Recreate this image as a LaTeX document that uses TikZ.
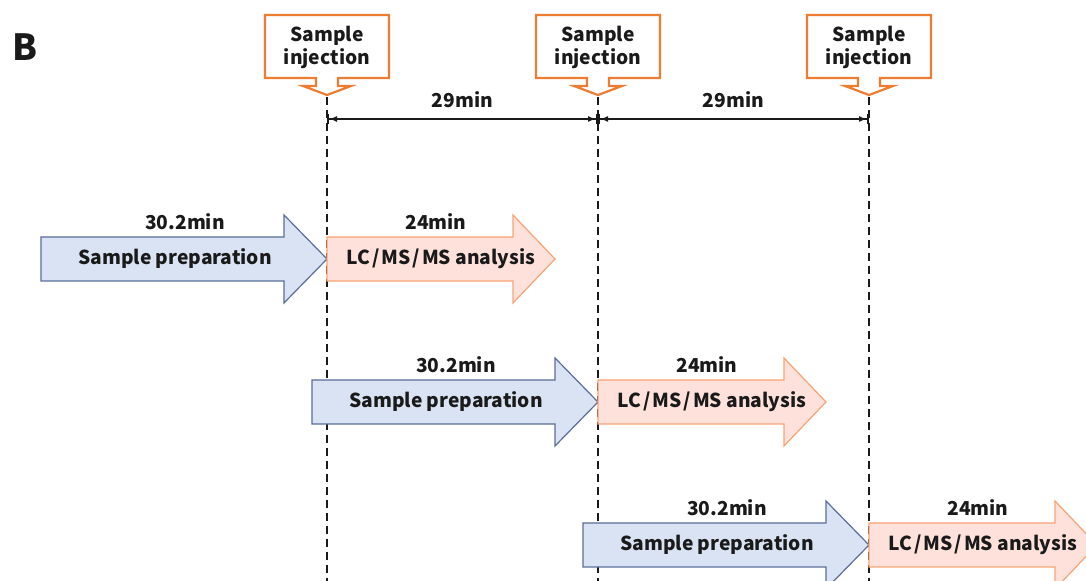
\documentclass[tikz,border=0pt]{standalone}
\usepackage{fontspec}
\setmainfont{Noto Sans CJK JP}
\usetikzlibrary{arrows.meta}
\definecolor{prepfill}{HTML}{DAE3F3}
\definecolor{prepline}{HTML}{5A6E9A}
\definecolor{lcfill}{HTML}{FFE1DC}
\definecolor{lcline}{HTML}{F7A474}
\definecolor{injline}{HTML}{ED7D31}
\definecolor{ink}{HTML}{1A1A1A}

\begin{document}
\begin{tikzpicture}[x=0.5pt,y=-0.5pt,
  prepbox/.style={fill=prepfill,draw=prepline,line width=0.6pt},
  lcbox/.style={fill=lcfill,draw=lcline,line width=0.6pt},
  injbox/.style={fill=white,draw=injline,line width=1.1pt},
  lbl/.style={text=ink,inner sep=0pt,font=\fontsize{9.6}{11.5}\selectfont\bfseries},
  timeline/.style={dash pattern=on 4pt off 2.5pt,line width=0.7pt,ink},
  span/.style={{Bar[width=5pt]Latex[length=4pt,width=3pt]}-{Latex[length=4pt,width=3pt]Bar[width=5pt]},line width=1pt,ink}]
\useasboundingbox (0,0) rectangle (1086,581);
\clip (0,0) rectangle (1086,581);

\node (panel) at (25,47) [text=ink,inner sep=0pt,font=\fontsize{18}{20}\selectfont\bfseries] {B};

\foreach \x/\n in {327/1,598/2,869/3} {
  \draw[injbox] (\x-62,15) -- (\x+62,15) -- (\x+62,78) -- (\x+11,78) -- (\x+11,86)
    -- (\x+24,86) -- (\x,95) -- (\x-24,86) -- (\x-11,86) -- (\x-11,78) -- (\x-62,78) -- cycle;
  \node (inj\n) at (\x,47) [lbl,align=center] {Sample\\injection};
  \coordinate (tip\n) at (\x,97);
  \coordinate (foot\n) at (\x,581);
  \coordinate (t\n) at (\x,119);
  \draw[timeline] (tip\n) -- (foot\n);
}

\draw[span] (t1) -- node (gap1) [lbl,above=5pt] {29min} (t2);
\draw[span] (t2) -- node (gap2) [lbl,above=5pt] {29min} (t3);

\foreach \r/\t/\c in {1/327/259,2/598/402,3/869/545} {
  \draw[prepbox] (\t-286,\c-22) -- (\t-43,\c-22) -- (\t-43,\c-44) -- (\t,\c)
    -- (\t-43,\c+44) -- (\t-43,\c+22) -- (\t-286,\c+22) -- cycle;
  \draw[lcbox] (\t,\c-22) -- (\t+186,\c-22) -- (\t+186,\c-44) -- (\t+228,\c)
    -- (\t+186,\c+44) -- (\t+186,\c+22) -- (\t,\c+22) -- cycle;
  \node (prep\r) at (\t-152,\c) [lbl] {Sample preparation};
  \node (preptime\r) at (\t-142,\c-37) [lbl] {30.2min};
  \node (lc\r) at (\t+114,\c) [lbl] {LC\kern1pt/\kern1pt MS\kern1pt/\kern1pt MS analysis};
  \node (lctime\r) at (\t+109,\c-37) [lbl] {24min};
}
\end{tikzpicture}
\end{document}
